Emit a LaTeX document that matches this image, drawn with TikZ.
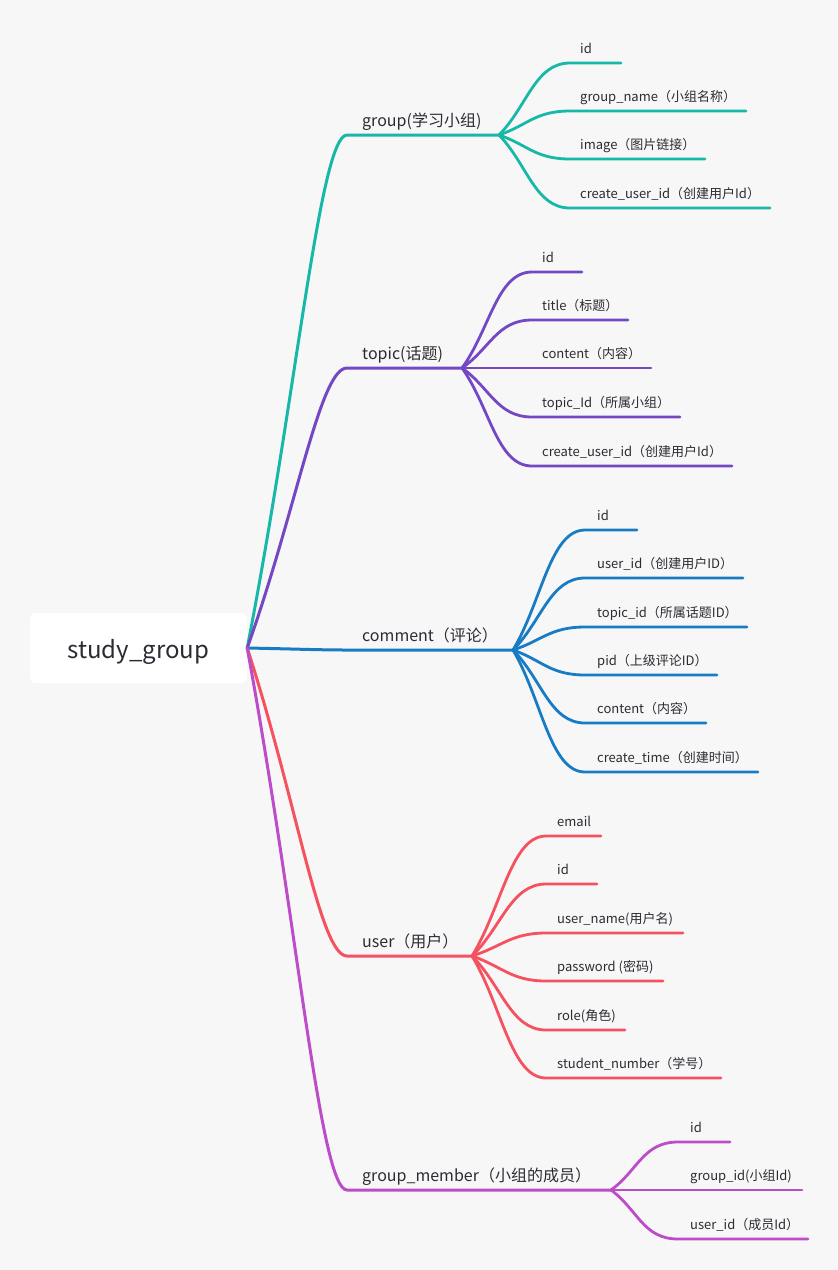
\documentclass[tikz,border=0pt]{standalone}
\usepackage{fontspec}
\setmainfont{Noto Sans CJK SC}
\usetikzlibrary{calc}
\definecolor{cbg}{HTML}{F7F7F7}
\definecolor{cteal}{HTML}{17B8A8}
\definecolor{cpurple}{HTML}{7448C4}
\definecolor{cblue}{HTML}{177CC4}
\definecolor{cred}{HTML}{F5515F}
\definecolor{cmagenta}{HTML}{BC4CC8}
\definecolor{ctext}{HTML}{2B2B33}
\tikzset{
  rootbox/.style={fill=white, rounded corners=6pt, minimum width=217pt, minimum height=70pt, font=\fontsize{24}{28}\selectfont, text=ctext},
  mainlabel/.style={font=\fontsize{16}{19}\selectfont, text=ctext, inner sep=0pt, anchor=base west},
  leaflabel/.style={font=\fontsize{13}{16}\selectfont, text=ctext, inner sep=0pt, anchor=base west},
  branch/.style={draw=#1, line width=3pt, line cap=round},
  twig/.style={draw=#1, line width=2.8pt, line cap=round},
}

\begin{document}
\begin{tikzpicture}[x=1pt, y=-1pt]
  \fill[cbg] (0,0) rectangle (838,1270);
  \useasboundingbox (0,0) rectangle (838,1270);
  \node[rootbox] (root) at (138.5,648) {\raisebox{-4pt}[\height][\depth]{study\_group}};

  % group
  \coordinate (gA) at (347,135); \coordinate (gF) at (499,135);
  \node[mainlabel] (gL) at (362,126) {group(学习小组)};
  \draw[branch=cteal] (root.east) .. controls ($(root.east)!.5!(gA)$) and ($(gA)+(-27,0)$) .. (gA) -- (gF);
  \foreach \y/\xe/\txt [count=\i] in {63/621/{id}, 111/746/{group\_name（小组名称）}, 159/705/{image（图片链接）}, 208/770/{create\_user\_id（创建用户Id）}} {
    \coordinate (g\i) at (570,\y); \coordinate (ge\i) at (\xe,\y);
    \node[leaflabel] (gt\i) at ($(g\i)+(10,-10)$) {\txt};
    \draw[twig=cteal] (gF) .. controls ($(gF)!.4!(g\i)$) and ($(g\i)+(-35,0)$) .. (g\i) -- (ge\i);
  }

  % topic
  \coordinate (tA) at (347,368); \coordinate (tF) at (462,368);
  \node[mainlabel] (tL) at (362,359) {topic(话题)};
  \draw[branch=cpurple] (root.east) .. controls ($(root.east)!.5!(tA)$) and ($(tA)+(-27,0)$) .. (tA) -- (tF);
  \foreach \y/\xe/\txt [count=\i] in {272/582/{id}, 320/628/{title（标题）}, 368/651/{content（内容）}, 417/680/{topic\_Id（所属小组）}, 466/732/{create\_user\_id（创建用户Id）}} {
    \coordinate (t\i) at (532,\y); \coordinate (te\i) at (\xe,\y);
    \node[leaflabel] (tt\i) at ($(t\i)+(10,-10)$) {\txt};
    \draw[twig=cpurple] (tF) .. controls ($(tF)!.4!(t\i)$) and ($(t\i)+(-35,0)$) .. (t\i) -- (te\i);
  }

  % comment
  \coordinate (cA) at (347,650); \coordinate (cF) at (513,650);
  \node[mainlabel] (cL) at (362,641) {comment（评论）};
  \draw[branch=cblue] (root.east) .. controls ($(root.east)!.5!(cA)$) and ($(cA)+(-27,0)$) .. (cA) -- (cF);
  \foreach \y/\xe/\txt [count=\i] in {530/637/{id}, 578/743/{user\_id（创建用户ID）}, 627/747/{topic\_id（所属话题ID）}, 675/717/{pid（上级评论ID）}, 723/706/{content（内容）}, 772/758/{create\_time（创建时间）}} {
    \coordinate (c\i) at (585,\y); \coordinate (ce\i) at (\xe,\y);
    \node[leaflabel] (ct\i) at ($(c\i)+(12,-10)$) {\txt};
    \draw[twig=cblue] (cF) .. controls ($(cF)!.4!(c\i)$) and ($(c\i)+(-35,0)$) .. (c\i) -- (ce\i);
  }

  % user
  \coordinate (uA) at (347,956); \coordinate (uF) at (472,956);
  \node[mainlabel] (uL) at (362,947) {user（用户）};
  \draw[branch=cred] (root.east) .. controls ($(root.east)!.5!(uA)$) and ($(uA)+(-27,0)$) .. (uA) -- (uF);
  \foreach \y/\xe/\txt [count=\i] in {836/601/{email}, 884/597/{id}, 933/683/{user\_name(用户名)}, 981/663/{password (密码)}, 1030/625/{role(角色)}, 1078/721/{student\_number（学号）}} {
    \coordinate (u\i) at (546,\y); \coordinate (ue\i) at (\xe,\y);
    \node[leaflabel] (ut\i) at ($(u\i)+(11,-10)$) {\txt};
    \draw[twig=cred] (uF) .. controls ($(uF)!.4!(u\i)$) and ($(u\i)+(-35,0)$) .. (u\i) -- (ue\i);
  }

  % group_member
  \coordinate (mA) at (347,1190); \coordinate (mF) at (611,1190);
  \node[mainlabel] (mL) at (362,1181) {group\_member（小组的成员）};
  \draw[branch=cmagenta] (root.east) .. controls ($(root.east)!.5!(mA)$) and ($(mA)+(-27,0)$) .. (mA) -- (mF);
  \foreach \y/\xe/\txt [count=\i] in {1142/730/{id}, 1190/802/{group\_id(小组Id)}, 1239/808/{user\_id（成员Id）}} {
    \coordinate (m\i) at (678,\y); \coordinate (me\i) at (\xe,\y);
    \node[leaflabel] (mt\i) at ($(m\i)+(12,-10)$) {\txt};
    \draw[twig=cmagenta] (mF) .. controls ($(mF)!.4!(m\i)$) and ($(m\i)+(-35,0)$) .. (m\i) -- (me\i);
  }
\end{tikzpicture}
\end{document}
